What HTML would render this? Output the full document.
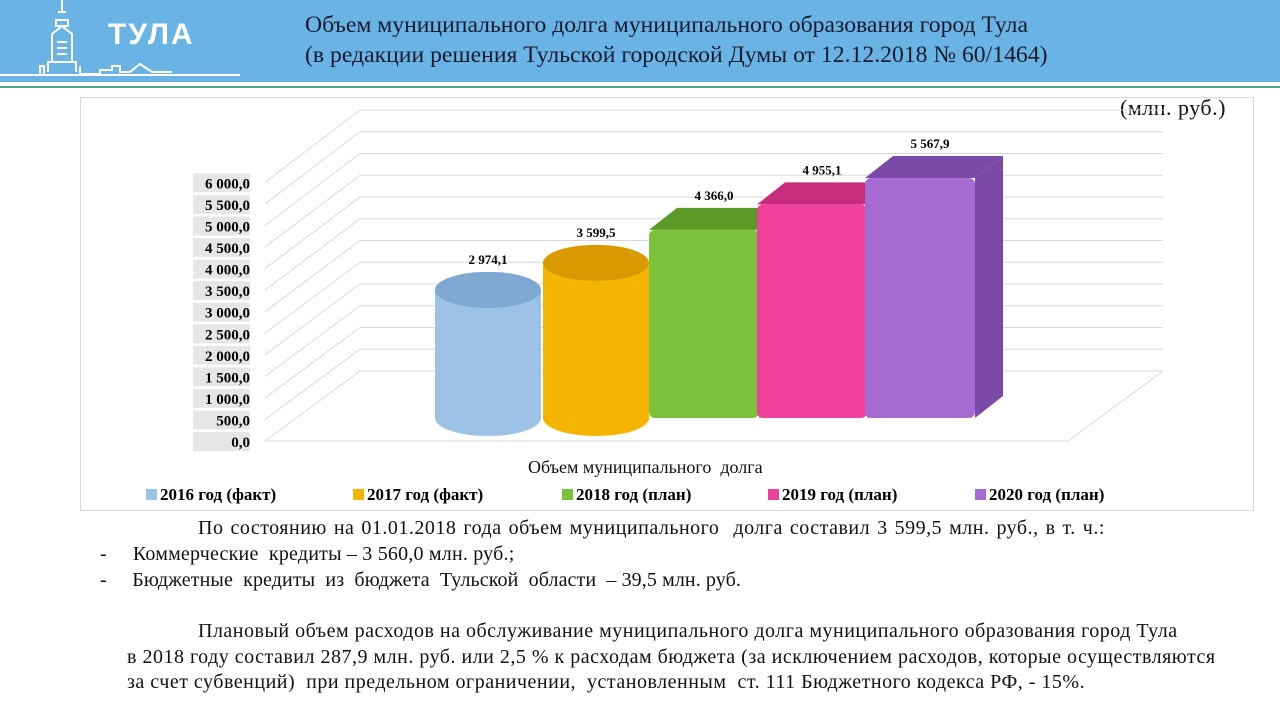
<!DOCTYPE html>
<html><head><meta charset="utf-8"><style>
body{margin:0;width:1280px;height:720px;overflow:hidden;background:#fff;font-family:"Liberation Serif",serif;position:relative}
.hdr{position:absolute;left:0;top:0;width:1280px;height:82px;background:#69b4e4}
.gl{position:absolute;left:0;top:86px;width:1280px;height:2px;background:#4aa58c}
.title{position:absolute;left:305px;top:10px;font-size:23.7px;line-height:30px;color:#1a1a2e;white-space:nowrap}
.logo{position:absolute;left:108px;top:18px;font-family:"Liberation Sans",sans-serif;font-weight:bold;font-size:30px;color:#fff;letter-spacing:2px}
.txt{position:absolute;font-size:20px;letter-spacing:0.5px;color:#111;white-space:nowrap}
</style></head><body>
<div class="hdr"></div>
<div class="gl"></div>
<svg style="position:absolute;left:0;top:0" width="240" height="82"><g fill="none" stroke="#fff" stroke-width="2"><path d="M62 0 V12 M58 12 h8 M56 26 h12 V20 h-12 Z M52 62 V34 L62 26 L72 34 V62 M48 72 V62 h28 V72 M40 74 V66 h4 V74 M80 74 V66 M80 74 h20 v-4 h12 v-4 h8 v6 h10 l10 -8 l12 8 h20"/><path d="M57 42 h10 M57 48 h10 M57 54 h10"/><path d="M0 75 H270"/></g></svg>
<div class="logo">ТУЛА</div>
<div class="title">Объем муниципального долга муниципального образования город Тула<br>(в редакции решения Тульской городской Думы от 12.12.2018 № 60/1464)</div>
<div style="position:absolute;left:80px;top:97px;width:1172px;height:412px;border:1px solid #d9d9d9"></div>
<div class="txt" style="left:1120px;top:95px;font-size:22px;letter-spacing:0.5px">(млн. руб.)</div>
<svg id="chart" width="1280" height="720" style="position:absolute;left:0;top:0"></svg>
<div class="txt" style="left:528px;top:457px;font-size:18px;letter-spacing:0">Объем муниципального&nbsp; долга</div>
<div id="legend"></div>
<div class="txt" style="left:198px;top:517px;word-spacing:1.5px">По состоянию на 01.01.2018 года объем муниципального&nbsp; долга составил 3 599,5 млн. руб., в т. ч.:</div>
<div class="txt" style="left:100px;top:543px;letter-spacing:0.2px">-&nbsp;&nbsp;&nbsp;&nbsp; Коммерческие&nbsp; кредиты – 3 560,0 млн. руб.;</div>
<div class="txt" style="left:100px;top:569px;letter-spacing:0.1px">-&nbsp;&nbsp;&nbsp;&nbsp; Бюджетные&nbsp; кредиты&nbsp; из&nbsp; бюджета&nbsp; Тульской&nbsp; области&nbsp; – 39,5 млн. руб.</div>
<div class="txt" style="left:198px;top:620px">Плановый объем расходов на обслуживание муниципального долга муниципального образования город Тула</div>
<div class="txt" style="left:127px;top:646px">в 2018 году составил 287,9 млн. руб. или 2,5 % к расходам бюджета (за исключением расходов, которые осуществляются</div>
<div class="txt" style="left:127px;top:671px">за счет субвенций)&nbsp; при предельном ограничении,&nbsp; установленным&nbsp; ст. 111 Бюджетного кодекса РФ, - 15%.</div>
<script>
const categories=["2016 год (факт)","2017 год (факт)","2018 год (план)","2019 год (план)","2020 год (план)"];
const values=[2974.1,3599.5,4366.0,4955.1,5567.9];
const valueLabels=["2 974,1","3 599,5","4 366,0","4 955,1","5 567,9"];
const ticks=[0,500,1000,1500,2000,2500,3000,3500,4000,4500,5000,5500,6000];
const tickLabels=["0,0","500,0","1 000,0","1 500,0","2 000,0","2 500,0","3 000,0","3 500,0","4 000,0","4 500,0","5 000,0","5 500,0","6 000,0"];
const colors=[["#9cc3e6","#7fa9d2"],["#f4b400","#d99a00"],["#7cc23a","#5c9a28"],["#f0409c","#c82c7c"],["#a66ad2","#7a4aa6"]];
const NS="http://www.w3.org/2000/svg",svg=document.getElementById('chart');
function mk(t,a,p){const e=document.createElementNS(NS,t);for(const k in a)e.setAttribute(k,a[k]);(p||svg).appendChild(e);return e;}
const yFront=v=>441-v*0.0431, yBack=v=>371-v*0.0435, yBar=v=>418-v*0.0431;
const xBand=i=>433+i*108, bw=110;
ticks.forEach((t,i)=>{
 const l=mk('line',{x1:265,y1:yFront(t),x2:360,y2:yBack(t),stroke:"#d9d9d9"});
 
 const b=mk('line',{x1:360,y1:yBack(t),x2:1163,y2:yBack(t),stroke:"#d9d9d9"});
 
 const r=mk('rect',{x:193,y:yFront(t)-9,width:57,height:19,fill:"#e6e6e6"});
 
 const tx=mk('text',{x:250,y:yFront(t)+6,"text-anchor":"end","font-size":15,"font-weight":"bold","font-family":"Liberation Serif"});
 tx.textContent=tickLabels[i];
 
});
const fl=mk('path',{d:`M265 441 H1068 L1163 371`,fill:"none",stroke:"#d9d9d9"});

values.forEach((v,i)=>{
 const x=xBand(i),yt=yBar(v),yb=418,c=colors[i];
 const g=mk('g',{});
 
 if(i<2){
  const rx=bw/2-2,ry=18,cx=x+bw/2;
  mk('path',{d:`M${x+2} ${yt} V${yb} A${rx} ${ry} 0 0 0 ${x+bw-2} ${yb} V${yt} Z`,fill:c[0]},g);
  mk('ellipse',{cx:cx,cy:yt,rx:rx,ry:ry,fill:c[1]},g);
 } else {
  const dx=28,dy=-22;
  mk('path',{d:`M${x} ${yt} L${x+dx} ${yt+dy} H${x+bw+dx} L${x+bw} ${yt} Z`,fill:c[1]},g);
  mk('path',{d:`M${x+bw} ${yt} L${x+bw+dx} ${yt+dy} V${yb+dy} L${x+bw} ${yb} Z`,fill:c[1]},g);
  mk('rect',{x:x,y:yt,width:bw,height:yb-yt,rx:6,fill:c[0]},g);
 }
 const tx=mk('text',{x:x+bw/2+(i<2?0:10),y:yt-(i<2?26:30),"text-anchor":"middle","font-size":13,"font-weight":"bold","font-family":"Liberation Serif"});
 tx.textContent=valueLabels[i];
 
});
const lg=document.getElementById('legend');
const lx=[146,353,562,768,975];
categories.forEach((c,i)=>{
 const d=document.createElement('div');
 
 
 d.style.cssText=`position:absolute;left:${lx[i]}px;top:485px;font-size:17px;font-weight:bold;white-space:nowrap`;
 d.innerHTML=`<span style="display:inline-block;width:11px;height:11px;background:${colors[i][0]};margin-right:3px"></span>${c}`;
 lg.appendChild(d);
});
</script>
</body></html>
